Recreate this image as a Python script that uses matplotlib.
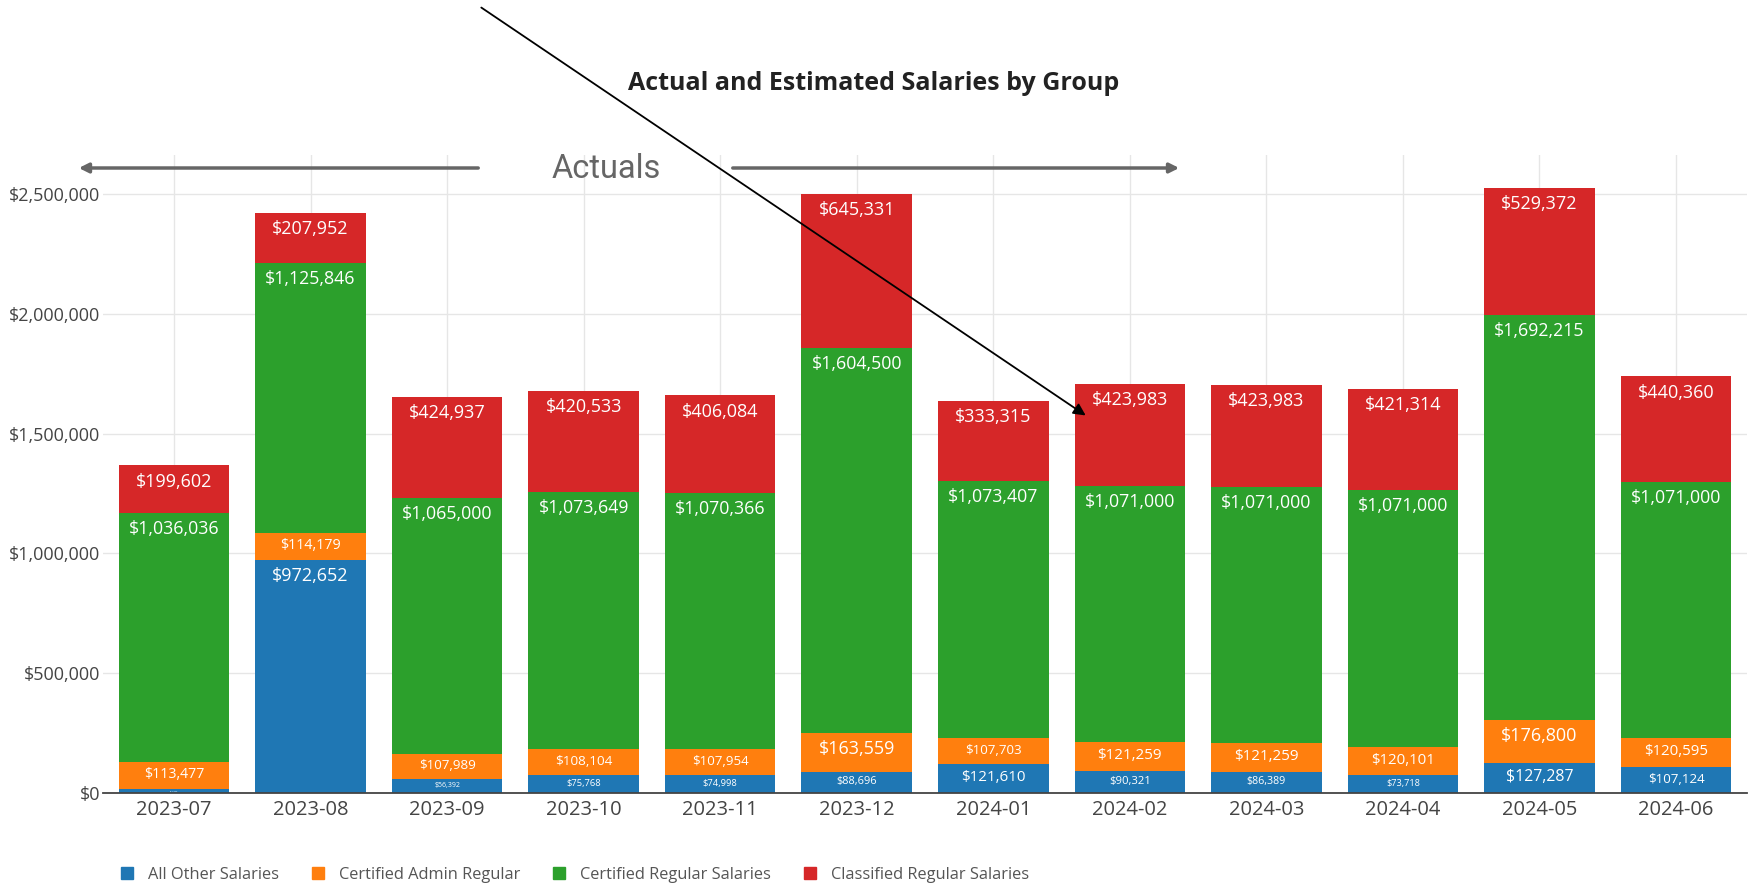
import matplotlib.pyplot as plt
import numpy as np
from matplotlib.patches import Patch, FancyArrowPatch
from matplotlib.ticker import FuncFormatter

plt.rcParams['font.family'] = ['Open Sans', 'DejaVu Sans']

# data
months = ['2023-07', '2023-08', '2023-09', '2023-10', '2023-11', '2023-12',
          '2024-01', '2024-02', '2024-03', '2024-04', '2024-05', '2024-06']
all_other = [17926, 972652, 56392, 75768, 74998, 88696,
             121610, 90321, 86389, 73718, 127287, 107124]
cert_admin = [113477, 114179, 107989, 108104, 107954, 163559,
              107703, 121259, 121259, 120101, 176800, 120595]
cert_regular = [1036036, 1125846, 1065000, 1073649, 1070366, 1604500,
                1073407, 1071000, 1071000, 1071000, 1692215, 1071000]
classified = [199602, 207952, 424937, 420533, 406084, 645331,
              333315, 423983, 423983, 421314, 529372, 440360]

series = [
    ('All Other Salaries', all_other, '#1f77b4'),
    ('Certified Admin Regular', cert_admin, '#ff7f0e'),
    ('Certified Regular Salaries', cert_regular, '#2ca02c'),
    ('Classified Regular Salaries', classified, '#d62728'),
]

W, H = 1756, 885
fig = plt.figure(figsize=(W / 100, H / 100), dpi=100)

# axes box in pixels
left, right, bottom_px, top_px = 103, 1747, 793, 155
ax = fig.add_axes([left / W, 1 - bottom_px / H, (right - left) / W, (bottom_px - top_px) / H])

ymax = 2662800
x = np.arange(len(months))
width = 0.81
px_per_unit = (bottom_px - top_px) / ymax
bar_px = width * (right - left) / (len(months) + 0.04)

base = np.zeros(len(months))
for name, vals, col in series:
    vals = np.array(vals, dtype=float)
    ax.bar(x, vals, width, bottom=base, color=col, label=name, zorder=2)
    tops = base + vals
    for xi, v, t in zip(x, vals, tops):
        txt = f'${v:,.0f}'
        w_em = sum(0.26 if c == ',' else 0.572 for c in txt)
        em = min(18, 0.52 * v * px_per_unit, 0.82 * bar_px / w_em)
        fs = max(em * 0.72, 1)
        ax.annotate(txt, (xi, t), xytext=(0, -0.9 * fs), textcoords='offset points',
                    ha='center', va='center', color='white', fontsize=fs, zorder=3)
    base = tops

ax.set_xlim(-0.52, len(months) - 0.48)
ax.set_ylim(0, ymax)
ax.set_xticks(x)
ax.set_xticklabels(months)
ax.set_yticks(np.arange(0, 2500001, 500000))
ax.yaxis.set_major_formatter(FuncFormatter(lambda v, p: f'${v:,.0f}'))
ax.tick_params(axis='y', length=0, pad=2, labelsize=13, labelcolor='#444')
ax.tick_params(axis='x', length=0, pad=5, labelsize=14.5, labelcolor='#444')
ax.grid(True, color='#e6e6e6', lw=1, zorder=0)
ax.set_axisbelow(True)
for s in ['top', 'right', 'left']:
    ax.spines[s].set_visible(False)
ax.spines['bottom'].set_color('#444')
ax.spines['bottom'].set_linewidth(1.3)
ax.spines['bottom'].set_zorder(4)

fig.text(874 / W, 1 - 84 / H, 'Actual and Estimated Salaries by Group',
         ha='center', va='center', fontsize=18, fontweight='bold', color='#222')

# "Actuals" annotation with arrows
fig.text(606 / W, 1 - 169 / H, 'Actuals', ha='center', va='center',
         fontsize=23.5, color='#666', family=['Roboto', 'DejaVu Sans'])


def fig_arrow(p0, p1, **kw):
    a = FancyArrowPatch((p0[0] / W, 1 - p0[1] / H), (p1[0] / W, 1 - p1[1] / H),
                        transform=fig.transFigure, **kw)
    fig.add_artist(a)


fig_arrow((481, 168), (76, 168), arrowstyle='-|>', mutation_scale=14, lw=2.5, color='#666')
fig_arrow((730, 168), (1182, 168), arrowstyle='-|>', mutation_scale=14, lw=2.5, color='#666')
fig_arrow((479, 6), (1088, 417), arrowstyle='-|>', mutation_scale=18, lw=1.3, color='black')

handles = [Patch(color=c) for _, _, c in series]
labels = [n for n, _, _ in series]
fig.legend(handles, labels, loc='center left', bbox_to_anchor=(121 / W, 1 - 875 / H),
           ncol=4, frameon=False, fontsize=11.8, handlelength=0.75, handleheight=0.75,
           handletextpad=0.9, columnspacing=2.0, labelcolor='#555',
           borderaxespad=0, borderpad=0)

fig.savefig('out.png', dpi=100)
